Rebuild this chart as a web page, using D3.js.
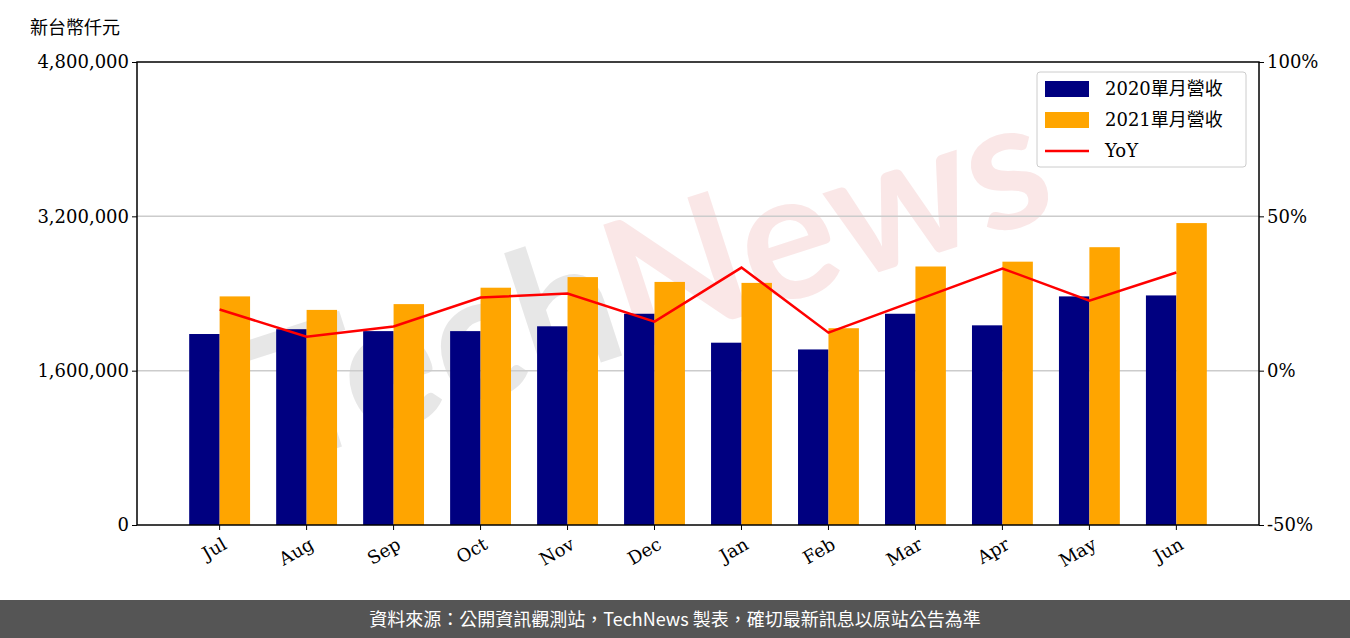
<!DOCTYPE html>
<html><head><meta charset="utf-8">
<script src="https://cdn.jsdelivr.net/npm/d3@7"></script>
<style>body{margin:0;background:#fff}text{font-family:"DejaVu Serif","Noto Sans CJK TC",serif}</style>
</head><body><svg id="c" width="1350" height="638"></svg>
<script>
const months = ["Jul","Aug","Sep","Oct","Nov","Dec","Jan","Feb","Mar","Apr","May","Jun"];
const rev2020 = [1980000,2030000,2010000,2010000,2060000,2190000,1890000,1820000,2190000,2070000,2370000,2380000];
const rev2021 = [2370000,2230000,2290000,2460000,2570000,2520000,2510000,2040000,2680000,2730000,2880000,3130000];
const yoy = [19.8,11,14.3,23.7,25,15.9,33.4,12.3,22.7,33.1,22.7,31.8];
const leftTicks = [0,1600000,3200000,4800000];
const rightTicks = [-50,0,50,100];

const svg = d3.select("#c");
const L=137,R=1259,T=62,B=525;
const x = d3.scaleBand().domain(months).range([L,R]).paddingOuter(0.6).paddingInner(0.3);
const y = d3.scaleLinear().domain([0,4800000]).range([B,T]);
const y2 = d3.scaleLinear().domain([-50,100]).range([B,T]);

// watermark
const wm = svg.append("text").attr("transform","translate(670,340) rotate(-18)").attr("text-anchor","middle")
  .style("font-family","Lato,sans-serif").style("font-weight","bold").style("font-size","180px").attr("opacity",0.28);
wm.append("tspan").attr("fill","#aaa").text("Tech");
wm.append("tspan").attr("fill","#eaa").text("News");

svg.append("g").selectAll("line").data([1600000,3200000]).join("line")
  .attr("x1",L).attr("x2",R).attr("y1",d=>y(d)).attr("y2",d=>y(d)).attr("stroke","#ccc").attr("stroke-width",1.5);

const bw = x.bandwidth()/2;
svg.append("g").selectAll("rect").data(rev2020).join("rect")
  .attr("x",(d,i)=>x(months[i])).attr("width",bw).attr("y",d=>y(d)).attr("height",d=>B-y(d)).attr("fill","#000080");
svg.append("g").selectAll("rect").data(rev2021).join("rect")
  .attr("x",(d,i)=>x(months[i])+bw).attr("width",bw).attr("y",d=>y(d)).attr("height",d=>B-y(d)).attr("fill","#ffa500");

svg.append("path").datum(yoy).attr("fill","none").attr("stroke","red").attr("stroke-width",2.5)
  .attr("d",d3.line().x((d,i)=>x(months[i])+x.bandwidth()/2).y(d=>y2(d)));

svg.append("rect").attr("x",L).attr("y",T).attr("width",R-L).attr("height",B-T).attr("fill","none").attr("stroke","#000").attr("stroke-width",1.5);

const ax = svg.append("g").attr("transform",`translate(0,${B})`).call(d3.axisBottom(x).tickSize(5));
ax.select(".domain").remove();
ax.selectAll("text").style("font-size","18px").attr("text-anchor","end").attr("x",0).attr("y",0).attr("dy","0.7em")
  .attr("transform","translate(2,12) rotate(-30)").attr("fill","#000");
const ay = svg.append("g").attr("transform",`translate(${L},0)`).call(d3.axisLeft(y).tickValues(leftTicks).tickFormat(d3.format(",")).tickSize(5));
ay.select(".domain").remove(); ay.selectAll("text").style("font-size","18px");
const ay2 = svg.append("g").attr("transform",`translate(${R},0)`).call(d3.axisRight(y2).tickValues(rightTicks).tickFormat(d=>d+"%").tickSize(5));
ay2.select(".domain").remove(); ay2.selectAll("text").style("font-size","18px");

svg.append("text").attr("x",30).attr("y",34).style("font-size","18px").style("font-family","'Noto Sans CJK TC'").text("新台幣仟元");

// legend
const lg = svg.append("g").attr("transform","translate(1037,72)");
lg.append("rect").attr("width",209).attr("height",95).attr("rx",3).attr("fill","#fff").attr("fill-opacity",0.85).attr("stroke","#ccc");
const items=[["2020單月營收","#000080","bar"],["2021單月營收","#ffa500","bar"],["YoY","red","line"]];
items.forEach((it,i)=>{
  const cy=17+i*31;
  if(it[2]==="bar") lg.append("rect").attr("x",8).attr("y",cy-8).attr("width",44).attr("height",16).attr("fill",it[1]);
  else lg.append("line").attr("x1",8).attr("x2",52).attr("y1",cy).attr("y2",cy).attr("stroke",it[1]).attr("stroke-width",2.5);
  lg.append("text").attr("x",68).attr("y",cy+6).style("font-size","18px").text(it[0]);
});

svg.append("rect").attr("x",0).attr("y",600).attr("width",1350).attr("height",38).attr("fill","#555");
svg.append("text").attr("x",675).attr("y",626).attr("text-anchor","middle").attr("fill","#fff")
  .style("font-family","'Noto Sans CJK TC'").style("font-size","18px").text("資料來源：公開資訊觀測站，TechNews 製表，確切最新訊息以原站公告為準");
</script></body></html>
